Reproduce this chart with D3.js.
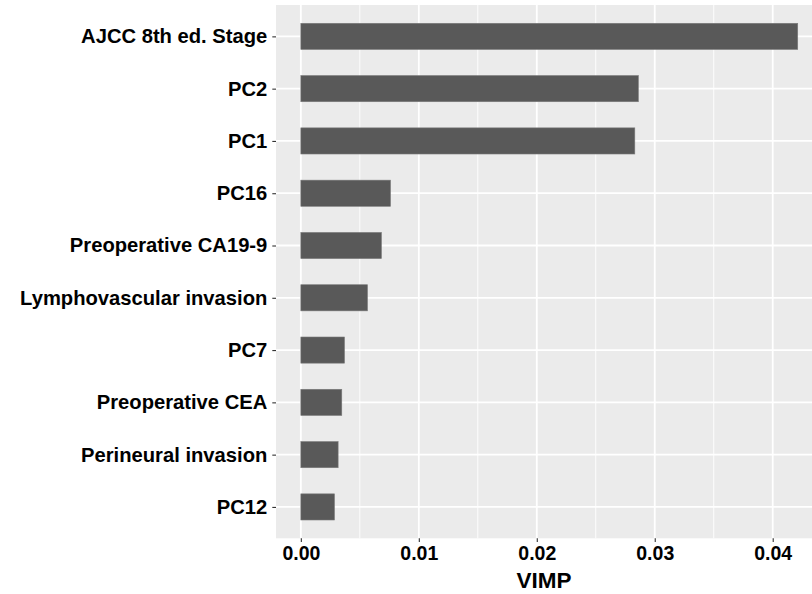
<!DOCTYPE html>
<html>
<head>
<meta charset="utf-8">
<script src="https://cdn.jsdelivr.net/npm/d3@7"></script>
<style>
  html, body { margin: 0; padding: 0; background: #fff; }
  svg { display: block; }
  text { font-family: "Liberation Sans", Arial, Helvetica, sans-serif; font-weight: bold; }
</style>
</head>
<body>
<svg id="chart" width="812" height="594"></svg>
<script>
const categories = ["AJCC 8th ed. Stage", "PC2", "PC1", "PC16", "Preoperative CA19-9",
  "Lymphovascular invasion", "PC7", "Preoperative CEA", "Perineural invasion", "PC12"];
const vimp = [0.04212, 0.02861, 0.02831, 0.00760, 0.00683, 0.00565, 0.00370, 0.00347, 0.00316, 0.00285];
const xTicks = [0, 0.01, 0.02, 0.03, 0.04];
const xMinorTicks = [0.005, 0.015, 0.025, 0.035, 0.045];
const xTitle = "VIMP";

const svg = d3.select("#chart");

// panel geometry (ggplot-like)
const panel = { left: 276, top: 5, bottom: 538.3 };
const maxV = d3.max(vimp);
const expand = 0.05 * maxV;
const xPerUnit = 11800; // px per unit
const x0px = 300.7;
const panelRight = x0px + (maxV + expand) * xPerUnit;

const x = d3.scaleLinear()
  .domain([-expand, maxV + expand])
  .range([panel.left, panelRight]);

const bandH = (panel.bottom - panel.top) / (categories.length - 1 + 1.2);
const y = d3.scalePoint()
  .domain(categories)
  .range([panel.top + 0.6 * bandH, panel.bottom - 0.6 * bandH]);

// panel background
svg.append("rect")
  .attr("x", panel.left).attr("y", panel.top)
  .attr("width", panelRight - panel.left).attr("height", panel.bottom - panel.top)
  .attr("fill", "#EBEBEB");

// minor grid
svg.append("g").selectAll("line").data(xMinorTicks).join("line")
  .attr("x1", d => x(d)).attr("x2", d => x(d))
  .attr("y1", panel.top).attr("y2", panel.bottom)
  .attr("stroke", "#fff").attr("stroke-width", 0.9);

// major grid
svg.append("g").selectAll("line").data(xTicks).join("line")
  .attr("x1", d => x(d)).attr("x2", d => x(d))
  .attr("y1", panel.top).attr("y2", panel.bottom)
  .attr("stroke", "#fff").attr("stroke-width", 1.8);
svg.append("g").selectAll("line").data(categories).join("line")
  .attr("x1", panel.left).attr("x2", panelRight)
  .attr("y1", d => y(d)).attr("y2", d => y(d))
  .attr("stroke", "#fff").attr("stroke-width", 1.8);

// bars
const barH = bandH * 0.5;
svg.append("g").selectAll("rect").data(categories).join("rect")
  .attr("x", x(0))
  .attr("y", d => y(d) - barH / 2)
  .attr("width", (d, i) => x(vimp[i]) - x(0))
  .attr("height", barH)
  .attr("fill", "#595959")
  .attr("stroke", "#7a7a7a")
  .attr("stroke-width", 0.6);

// x axis
const xAxis = d3.axisBottom(x).tickValues(xTicks).tickFormat(d3.format(".2f"))
  .tickSize(3.7).tickPadding(4);
const gx = svg.append("g").attr("transform", `translate(0,${panel.bottom})`).call(xAxis);
gx.select(".domain").remove();
gx.selectAll(".tick line").attr("stroke", "#333333").attr("stroke-width", 1.1);
gx.selectAll(".tick text").attr("fill", "#000").attr("font-size", "19.5px")
  .attr("font-family", "'Liberation Sans', Arial, sans-serif").attr("font-weight", "bold");

// y axis
const yAxis = d3.axisLeft(y).tickSize(3.7).tickPadding(5);
const gy = svg.append("g").attr("transform", `translate(${panel.left},0)`).call(yAxis);
gy.select(".domain").remove();
gy.selectAll(".tick line").attr("stroke", "#333333").attr("stroke-width", 1.1);
gy.selectAll(".tick text").attr("fill", "#000").attr("font-size", "20.2px")
  .attr("font-family", "'Liberation Sans', Arial, sans-serif").attr("font-weight", "bold");

// x title (centred on the visible panel width)
svg.append("text")
  .attr("x", (panel.left + 812) / 2)
  .attr("y", 588)
  .attr("text-anchor", "middle")
  .attr("font-size", "22.5px")
  .attr("fill", "#000")
  .text(xTitle);
</script>
</body>
</html>
